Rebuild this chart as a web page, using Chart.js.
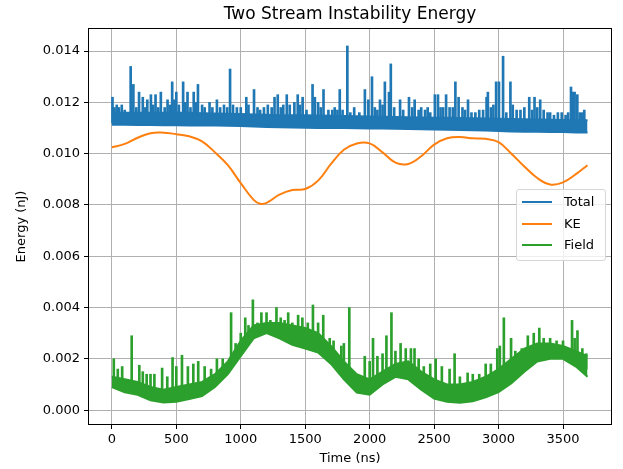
<!DOCTYPE html>
<html>
<head>
<meta charset="utf-8">
<title>Two Stream Instability Energy</title>
<script src="https://cdn.jsdelivr.net/npm/chart.js@4.4.1/dist/chart.umd.min.js"></script>
<style>
  html, body { margin: 0; padding: 0; background: #fff; }
  #wrap { position: relative; width: 623px; height: 469px; }
  #legend {
    position: absolute; left: 516px; top: 189px; width: 90px; height: 72px;
    box-sizing: border-box; border: 1px solid #d6d6d6; border-radius: 3px;
    background: rgba(255, 255, 255, 0.8);
    font: 13px "DejaVu Sans", sans-serif; color: #000;
  }
  .row { position: absolute; left: 0; height: 20px; line-height: 20px; }
  .row span.swatch { position: absolute; left: 5px; top: 9px; width: 30px; height: 2px; }
  .row span.label { position: absolute; left: 47px; top: 0; white-space: nowrap; }
</style>
</head>
<body>
<div id="wrap">
  <canvas id="chart" width="623" height="469"></canvas>
  <div id="legend">
    <div class="row" style="top:2px"><span class="swatch" style="background:#1f77b4"></span><span class="label">Total</span></div>
    <div class="row" style="top:24px"><span class="swatch" style="background:#ff7f0e"></span><span class="label">KE</span></div>
    <div class="row" style="top:45px"><span class="swatch" style="background:#2ca02c"></span><span class="label">Field</span></div>
  </div>
</div>
<script>
// Dati (nJ). La parte rumorosa e' divisa in
// fascia densa (bordo inferiore / superiore) + picchi singoli.
const bandTimes = [
  0, 100, 200, 300, 400, 500, 600, 700, 800, 900, 1000, 1100, 1200, 1300, 1400,
  1500, 1600, 1700, 1800, 1900, 2000, 2100, 2200, 2300, 2400, 2500, 2600, 2700,
  2800, 2900, 3000, 3100, 3200, 3300, 3400, 3500, 3600, 3690
];

const totalLow = [
  0.01113, 0.01113, 0.01112, 0.01112, 0.01111, 0.01111, 0.0111, 0.0111, 0.0111,
  0.01109, 0.01108, 0.01106, 0.01104, 0.01103, 0.01102, 0.01101, 0.011, 0.011,
  0.011, 0.01099, 0.01098, 0.01098, 0.01097, 0.01096, 0.01095, 0.01094, 0.01093,
  0.01092, 0.01091, 0.0109, 0.01088, 0.01086, 0.01085, 0.01085, 0.01084, 0.01084,
  0.01083, 0.01083
];
const totalHigh = [
  0.0116, 0.0116, 0.0116, 0.0116, 0.0116, 0.0116, 0.0116, 0.01158, 0.01157,
  0.01156, 0.01155, 0.01153, 0.01152, 0.0115, 0.0115, 0.0115, 0.01149, 0.01148,
  0.01147, 0.01146, 0.01145, 0.01144, 0.01143, 0.01142, 0.01141, 0.0114, 0.0114,
  0.01139, 0.01138, 0.01137, 0.01136, 0.01135, 0.01134, 0.01133, 0.01132, 0.01131,
  0.0113, 0.0113
];
const totalSpikeBase = 0.0112;
const totalSpikeTimes = [
  5, 20, 38, 55, 77, 100, 146, 167, 190, 211, 240, 260, 275, 303, 320, 339, 360,
  380, 410, 432, 450, 468, 485, 500, 520, 553, 570, 587, 610, 635, 650, 668, 700,
  720, 758, 780, 815, 840, 870, 895, 917, 940, 970, 1000, 1043, 1060, 1103, 1130,
  1150, 1180, 1210, 1240, 1262, 1287, 1310, 1330, 1357, 1380, 1416, 1442, 1460,
  1480, 1510, 1557, 1575, 1600, 1620, 1642, 1680, 1710, 1729, 1750, 1768, 1790,
  1827, 1850, 1880, 1920, 1963, 1990, 2018, 2040, 2060, 2080, 2100, 2118, 2150,
  2164, 2190, 2236, 2260, 2305, 2330, 2349, 2380, 2400, 2430, 2450, 2470, 2506,
  2530, 2550, 2570, 2593, 2620, 2645, 2665, 2690, 2720, 2740, 2763, 2790, 2820,
  2850, 2880, 2907, 2917, 2940, 2960, 2981, 3003, 3035, 3060, 3092, 3110, 3140,
  3170, 3200, 3238, 3260, 3279, 3300, 3323, 3350, 3380, 3400, 3430, 3460, 3490,
  3520, 3540, 3562, 3575, 3590, 3611, 3630, 3650, 3665
];
const totalSpikeTops = [
  0.0122, 0.0118, 0.0119, 0.0118, 0.0119, 0.0117, 0.0134, 0.0127, 0.0118, 0.0124,
  0.0122, 0.0118, 0.0121, 0.0123, 0.0119, 0.0123, 0.0118, 0.0124, 0.0118, 0.0121,
  0.0119, 0.0128, 0.0121, 0.0124, 0.0119, 0.0128, 0.0120, 0.0124, 0.0118, 0.0124,
  0.0120, 0.0127, 0.0119, 0.0118, 0.0120, 0.0118, 0.0121, 0.0118, 0.0119, 0.0118,
  0.0133, 0.0119, 0.0118, 0.0118, 0.0122, 0.0119, 0.0125, 0.0118, 0.0117, 0.0118,
  0.0119, 0.0118, 0.0122, 0.0123, 0.0118, 0.0119, 0.0123, 0.0119, 0.0120, 0.0123,
  0.0119, 0.0122, 0.0117, 0.0127, 0.0122, 0.0120, 0.0118, 0.0125, 0.0117, 0.0117,
  0.0118, 0.0117, 0.0125, 0.0117, 0.0142, 0.0116, 0.0118, 0.0116, 0.0125, 0.0121,
  0.0130, 0.0118, 0.0117, 0.0121, 0.0119, 0.0128, 0.0124, 0.0135, 0.0118, 0.0121,
  0.0117, 0.0122, 0.0118, 0.0121, 0.0117, 0.0118, 0.0117, 0.0118, 0.0116, 0.0123,
  0.0123, 0.0118, 0.0118, 0.0123, 0.0118, 0.0118, 0.0128, 0.0122, 0.0118, 0.0117,
  0.0121, 0.0116, 0.0116, 0.0117, 0.0117, 0.0122, 0.0124, 0.0118, 0.0119, 0.0128,
  0.0128, 0.0138, 0.0116, 0.0128, 0.0119, 0.0117, 0.0117, 0.0118, 0.0122, 0.0117,
  0.0122, 0.0118, 0.0121, 0.0117, 0.0116, 0.0116, 0.0115, 0.0116, 0.0116, 0.0115,
  0.0116, 0.0126, 0.0124, 0.0124, 0.0123, 0.0116, 0.0116, 0.0117
];

const fieldLow = [
  0.0009, 0.0007, 0.0006, 0.00038, 0.0003, 0.00033, 0.00043, 0.00055, 0.0009,
  0.0014, 0.0021, 0.0028, 0.0030, 0.0028, 0.00255, 0.0024, 0.00225, 0.0018, 0.0012,
  0.00068, 0.0006, 0.0010, 0.0013, 0.0012, 0.0008, 0.00045, 0.00033, 0.00029,
  0.00035, 0.0005, 0.0007, 0.00105, 0.0015, 0.0019, 0.0020, 0.0020, 0.0017, 0.0013
];
const fieldHigh = [
  0.0013, 0.0012, 0.0011, 0.0009, 0.0008, 0.0009, 0.0010, 0.0011, 0.0014,
  0.0019, 0.0027, 0.0033, 0.0034, 0.0034, 0.0033, 0.0032, 0.0030, 0.0025, 0.0019,
  0.0014, 0.0012, 0.0015, 0.0018, 0.0019, 0.0015, 0.0012, 0.0010, 0.0010,
  0.0011, 0.0013, 0.0016, 0.0020, 0.0024, 0.0026, 0.0026, 0.0025, 0.0023, 0.0021
];
const fieldSpikeTimes = [
  15, 46, 80, 154, 213, 240, 270, 300, 330, 390, 430, 471, 500, 544, 590, 632, 670,
  720, 770, 815, 860, 925, 960, 1000, 1035, 1060, 1094, 1130, 1160, 1200, 1230,
  1277, 1310, 1340, 1368, 1400, 1445, 1478, 1520, 1560, 1600, 1640, 1690, 1720,
  1780, 1800, 1842, 1962, 2000, 2026, 2060, 2100, 2130, 2169, 2200, 2240, 2280,
  2320, 2348, 2380, 2420, 2470, 2512, 2560, 2620, 2659, 2700, 2760, 2800, 2850,
  2900, 2940, 2990, 3010, 3041, 3097, 3130, 3180, 3227, 3273, 3316, 3350, 3400,
  3450, 3500, 3570, 3590, 3612, 3650, 3680
];
const fieldSpikeBases = [
  0.0011, 0.0010, 0.0009, 0.0009, 0.0008, 0.0008, 0.0006, 0.0006, 0.0005, 0.0005,
  0.0005, 0.0005, 0.0005, 0.0006, 0.0006, 0.0007, 0.0008, 0.0008, 0.0010, 0.0011,
  0.0014, 0.0017, 0.0020, 0.0024, 0.0025, 0.0027, 0.0030, 0.0030, 0.0031, 0.0032,
  0.0032, 0.0031, 0.0030, 0.0030, 0.0029, 0.0029, 0.0028, 0.0028, 0.0028, 0.0027,
  0.0026, 0.0025, 0.0022, 0.0021, 0.0017, 0.0016, 0.0013, 0.0009, 0.0009, 0.0009,
  0.0010, 0.0012, 0.0013, 0.0014, 0.0015, 0.0015, 0.0015, 0.0015, 0.0014, 0.0013,
  0.0011, 0.0009, 0.0008, 0.0007, 0.0006, 0.0006, 0.0006, 0.0006, 0.0007, 0.0008,
  0.0009, 0.0010, 0.0011, 0.0012, 0.0013, 0.0015, 0.0017, 0.0019, 0.0020, 0.0021,
  0.0022, 0.0022, 0.0022, 0.0022, 0.0022, 0.0021, 0.0020, 0.0019, 0.0017, 0.0016
];
const fieldSpikeTops = [
  0.0020, 0.0016, 0.0017, 0.0029, 0.00175, 0.0015, 0.0014, 0.0014, 0.0014, 0.00164,
  0.0013, 0.00205, 0.0017, 0.00214, 0.0017, 0.0018, 0.0019, 0.0017, 0.0016, 0.0020,
  0.0020, 0.0038, 0.0026, 0.0030, 0.0036, 0.0033, 0.0043, 0.0034, 0.0038, 0.0038,
  0.0035, 0.0040, 0.0036, 0.0035, 0.0038, 0.0034, 0.0037, 0.0036, 0.0034, 0.0041,
  0.0034, 0.0037, 0.0028, 0.0027, 0.0025, 0.0026, 0.0040, 0.0021, 0.0019, 0.0028,
  0.0021, 0.0022, 0.0029, 0.0038, 0.0023, 0.0026, 0.0024, 0.0024, 0.0024, 0.0020,
  0.0017, 0.0018, 0.0020, 0.0017, 0.0016, 0.0022, 0.0013, 0.00145, 0.0014, 0.0014,
  0.0018, 0.0018, 0.0024, 0.0025, 0.0036, 0.0028, 0.0023, 0.0024, 0.0029, 0.0030,
  0.0032, 0.0028, 0.0028, 0.0027, 0.0027, 0.0035, 0.0028, 0.0031, 0.0024, 0.0022
];

// KE e' liscia: bastano pochi punti
const keTimes = [
  0, 100, 200, 300, 400, 500, 600, 700, 800, 900, 1000, 1100, 1150, 1200, 1300,
  1400, 1500, 1600, 1700, 1800, 1900, 2000, 2100, 2200, 2300, 2400, 2500, 2600,
  2700, 2800, 2900, 3000, 3100, 3200, 3300, 3400, 3500, 3600, 3690
];
const keEnergy = [
  0.01025, 0.01038, 0.01062, 0.01080, 0.01082, 0.01076, 0.01068, 0.01048, 0.01005,
  0.00955, 0.00885, 0.00820, 0.00805, 0.00808, 0.00840, 0.00858, 0.00862, 0.00895,
  0.00960, 0.01015, 0.01040, 0.01040, 0.01005, 0.00965, 0.00960, 0.00990, 0.01035,
  0.01060, 0.01065, 0.01060, 0.01058, 0.01045, 0.01000, 0.00950, 0.00905, 0.00880,
  0.00888, 0.00920, 0.00955
];

const xTicks = [0, 500, 1000, 1500, 2000, 2500, 3000, 3500];
const yTicks = [0, 0.002, 0.004, 0.006, 0.008, 0.010, 0.012, 0.014];

const BLUE = "#1f77b4", ORANGE = "#ff7f0e", GREEN = "#2ca02c";
const font = { family: "'DejaVu Sans', sans-serif", size: 13 };

// Conversione in punti {x, y}
const toPoints = (times, values) => values.map((v, i) => ({ x: times[i], y: v }));
const toBars = (times, bases, tops) =>
  tops.map((v, i) => ({ x: times[i], y: [Array.isArray(bases) ? bases[i] : bases, v] }));

// Cornice nera attorno all'area del grafico (stile matplotlib)
const frame = {
  id: "frame",
  afterDraw(chart) {
    const { ctx, chartArea: a } = chart;
    ctx.save();
    ctx.strokeStyle = "#000";
    ctx.lineWidth = 1;
    ctx.strokeRect(Math.round(a.left) + 0.5, Math.round(a.top) + 0.5,
      Math.round(a.right - a.left) - 1, Math.round(a.bottom - a.top) - 1);
    ctx.restore();
  }
};

function line(label, data, color, extra) {
  return Object.assign({
    type: "line", label, data,
    borderColor: color, backgroundColor: color,
    borderWidth: 2, pointRadius: 0, tension: 0, fill: false
  }, extra || {});
}

function spikes(label, data, color) {
  return {
    type: "bar", label, data,
    backgroundColor: color, borderWidth: 0,
    barThickness: 2, grouped: false
  };
}

new Chart(document.getElementById("chart"), {
  type: "line",
  data: {
    datasets: [
      line("Total low", toPoints(bandTimes, totalLow), BLUE),
      line("Total", toPoints(bandTimes, totalHigh), BLUE, { fill: "-1" }),
      spikes("Total spikes", toBars(totalSpikeTimes, totalSpikeBase, totalSpikeTops), BLUE),
      line("KE", toPoints(keTimes, keEnergy), ORANGE, { tension: 0.4 }),
      line("Field low", toPoints(bandTimes, fieldLow), GREEN),
      line("Field", toPoints(bandTimes, fieldHigh), GREEN, { fill: "-1" }),
      spikes("Field spikes", toBars(fieldSpikeTimes, fieldSpikeBases, fieldSpikeTops), GREEN)
    ]
  },
  options: {
    responsive: false,
    animation: false,
    layout: { padding: { left: 0, right: 11, top: 0, bottom: 0 } },
    plugins: {
      legend: { display: false },
      tooltip: { enabled: false },
      title: {
        display: true,
        text: "Two Stream Instability Energy",
        fullSize: false,
        color: "#000",
        font: { family: font.family, size: 17, weight: "normal" },
        padding: { top: 4, bottom: 3.6 }
      }
    },
    scales: {
      x: {
        type: "linear",
        offset: false,
        min: -185,
        max: 3880,
        afterBuildTicks: (s) => { s.ticks = xTicks.map((v) => ({ value: v })); },
        afterFit: (s) => { s.height = 44; },
        ticks: { color: "#000", font, padding: 3, maxRotation: 0, callback: (v) => String(v) },
        grid: { offset: false, color: "#b0b0b0", lineWidth: 1, tickColor: "#000", tickLength: 4 },
        border: { display: false },
        title: { display: true, text: "Time (ns)", color: "#000", font, padding: { top: 0, bottom: 3 } }
      },
      y: {
        type: "linear",
        min: -0.00058,
        max: 0.0149,
        afterBuildTicks: (s) => { s.ticks = yTicks.map((v) => ({ value: v })); },
        afterFit: (s) => { s.width = 88; },
        ticks: { color: "#000", font, padding: 4, callback: (v) => v.toFixed(3) },
        grid: { color: "#b0b0b0", lineWidth: 1, tickColor: "#000", tickLength: 4 },
        border: { display: false },
        title: { display: true, text: "Energy (nJ)", color: "#000", font, padding: { top: 14, bottom: 0 } }
      }
    }
  },
  plugins: [frame]
});
</script>
</body>
</html>
